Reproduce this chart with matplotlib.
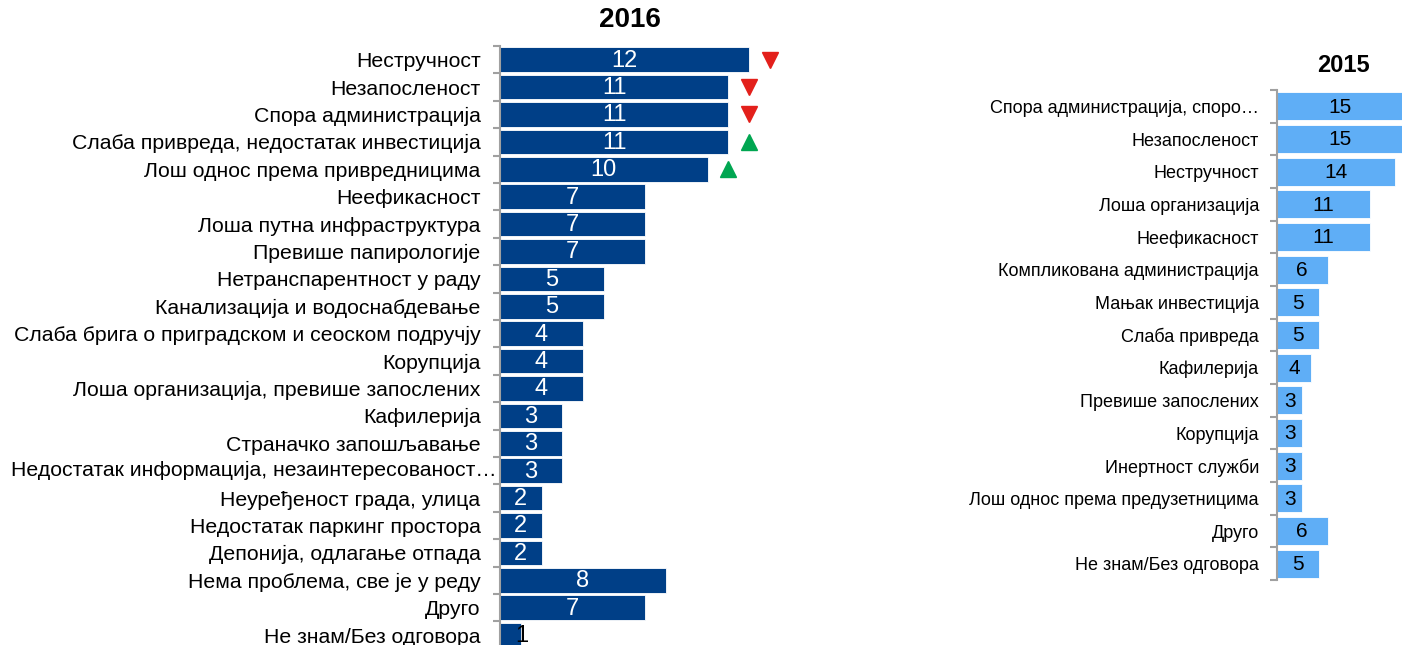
import matplotlib
matplotlib.use("Agg")
import matplotlib.pyplot as plt
import numpy as np

plt.rcParams['font.family'] = ['Liberation Sans', 'DejaVu Sans']

cats_2016 = ["Нестручност", "Незапосленост", "Спора администрација",
             "Слаба привреда, недостатак инвестиција", "Лош однос према привредницима",
             "Неефикасност", "Лоша путна инфраструктура", "Превише папирологије",
             "Нетранспарентност у раду", "Канализација и водоснабдевање",
             "Слаба брига о приградском и сеоском подручју", "Корупција",
             "Лоша организација, превише запослених", "Кафилерија",
             "Страначко запошљавање", "Недостатак информација, незаинтересованост…",
             "Неуређеност града, улица", "Недостатак паркинг простора",
             "Депонија, одлагање отпада", "Нема проблема, све је у реду",
             "Друго", "Не знам/Без одговора"]
vals_2016 = [12, 11, 11, 11, 10, 7, 7, 7, 5, 5, 4, 4, 4, 3, 3, 3, 2, 2, 2, 8, 7, 1]
# trend markers: (row index, direction)
trend_rows = [0, 1, 2, 3, 4]
trend_dirs = ["down", "down", "down", "up", "up"]

cats_2015 = ["Спора администрација, споро…", "Незапосленост", "Нестручност",
             "Лоша организација", "Неефикасност", "Компликована администрација",
             "Мањак инвестиција", "Слаба привреда", "Кафилерија",
             "Превише запослених", "Корупција", "Инертност служби",
             "Лош однос према предузетницима", "Друго", "Не знам/Без одговора"]
vals_2015 = [15, 15, 14, 11, 11, 6, 5, 5, 4, 3, 3, 3, 3, 6, 5]

W, H = 1402, 645
fig = plt.figure(figsize=(W / 100, H / 100), dpi=100)

dark = "#003F87"
light = "#5FAEF6"
red = "#E3201B"
green = "#00A651"
gray = "#A0A0A0"

def style_axis(ax, n):
    for s in ["top", "right", "bottom"]:
        ax.spines[s].set_visible(False)
    ax.spines["left"].set_color(gray)
    ax.spines["left"].set_linewidth(1.5)
    ax.set_xticks([])
    ax.set_ylim(n - 0.5, -0.5)
    ax.set_yticks(np.arange(n))
    ax.tick_params(axis="y", which="major", length=0)
    ax.set_yticks(np.arange(-0.5, n, 1.0), minor=True)
    ax.tick_params(axis="y", which="minor", length=5, color=gray, width=1.5)

# Left chart (2016)
n1 = len(cats_2016)
ax1 = fig.add_axes([500 / W, 1 - (46 + n1 * 27.4) / H, 260 / W, n1 * 27.4 / H])
y1 = np.arange(n1)
ax1.barh(y1, vals_2016, height=0.9, color=dark, edgecolor="white", linewidth=0.6)
style_axis(ax1, n1)
ax1.set_xlim(0, 260 / 20.75)
long_idx = [i for i, c in enumerate(cats_2016) if c.endswith("…")]
shown = ["" if i in long_idx else c for i, c in enumerate(cats_2016)]
ax1.set_yticklabels(shown, fontsize=15.3)
ax1.tick_params(axis="y", which="major", pad=14)
for i in long_idx:
    ax1.text(-3 / 260, i, cats_2016[i], transform=ax1.get_yaxis_transform(),
             ha="right", va="center", fontsize=15.3, clip_on=False)
for yi, v in zip(y1, vals_2016):
    if v >= 2:
        ax1.text(v / 2, yi + 0.03, str(v), ha="center", va="center", color="white", fontsize=17)
    else:
        ax1.text(v + 0.05, yi + 0.05, str(v), ha="center", va="center", color="black", fontsize=17,
                 clip_on=False)
for r, d in zip(trend_rows, trend_dirs):
    ax1.plot(vals_2016[r] + 1.0, r, marker="v" if d == "down" else "^",
             color=red if d == "down" else green, markersize=11, clip_on=False, linestyle="none")
fig.text(630 / W, 1 - 20 / H, "2016", ha="center", va="center", fontsize=20, fontweight="bold")

# Right chart (2015)
n2 = len(cats_2015)
ax2 = fig.add_axes([1277 / W, 1 - 580 / H, 132 / W, 490 / H])
y2 = np.arange(n2)
ax2.barh(y2, vals_2015, height=0.85, color=light, edgecolor="white", linewidth=0.6)
style_axis(ax2, n2)
ax2.set_xlim(0, 132 / 8.43)
ax2.set_yticklabels(cats_2015, fontsize=13)
ax2.tick_params(axis="y", which="major", pad=13)
for yi, v in zip(y2, vals_2015):
    ax2.text(v / 2, yi + 0.03, str(v), ha="center", va="center", color="black", fontsize=15)
fig.text(1343 / W, 1 - 65 / H, "2015", ha="center", va="center", fontsize=17, fontweight="bold")

fig.savefig("out.png", dpi=100)
